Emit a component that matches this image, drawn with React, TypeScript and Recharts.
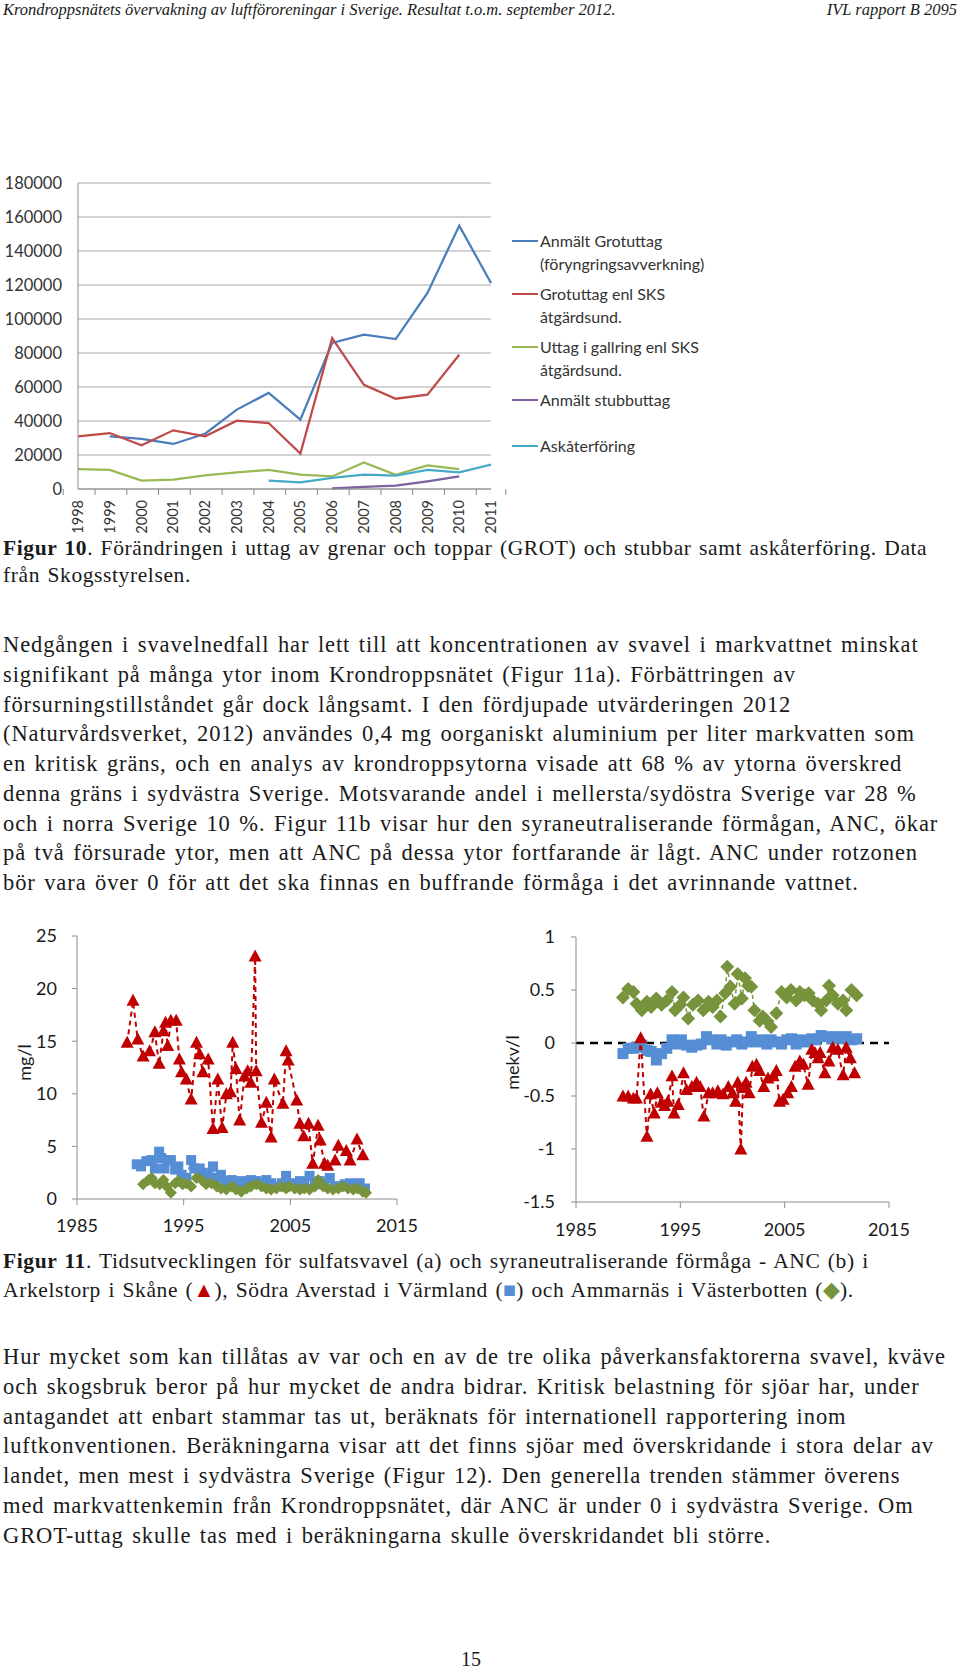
import React from 'react';
import {
  LineChart,
  Line,
  XAxis,
  YAxis,
  CartesianGrid,
  Legend,
  ScatterChart,
  Scatter,
  ReferenceLine,
} from 'recharts';

// ---- Figur 10: GROT / stubbar / askåterföring ----
const years = ['1998', '1999', '2000', '2001', '2002', '2003', '2004', '2005', '2006', '2007', '2008', '2009', '2010', '2011'];
const grotAnmalt = [null, 31000, 29500, 26500, 32500, 46700, 56500, 40800, 85900, 90800, 88200, 115300, 154900, 121200];
const grotSks = [30900, 32900, 25700, 34500, 31000, 40200, 38800, 20800, 88800, 61300, 53100, 55500, 79000, null];
const gallring = [11700, 11200, 4900, 5500, 8000, 9800, 11200, 8400, 7400, 15600, 8400, 13900, 11700, null];
const stubb = [null, null, null, null, null, null, null, null, 400, 1200, 2000, 4500, 7400, null];
const aska = [null, null, null, null, null, null, 4900, 3900, 6500, 8400, 7800, 11200, 9800, 14300];
const topTicks = [0, 20000, 40000, 60000, 80000, 100000, 120000, 140000, 160000, 180000];
const legendOrder = ['grotAnmalt', 'grotSks', 'gallring', 'stubb', 'aska'];

// ---- Figur 11a: sulfatsvavel mg/l ----
const arkelstorpS: [number, number][] = [
  [1989.7, 14.8], [1990.25, 18.8], [1990.7, 15.1], [1991.2, 13.5], [1991.8, 14.0], [1992.3, 15.8],
  [1992.7, 12.8], [1993.1, 15.9], [1993.3, 16.7], [1993.5, 14.5], [1993.8, 16.9], [1994.3, 16.9],
  [1994.6, 13.2], [1994.8, 12.0], [1995.25, 11.3], [1995.7, 9.4], [1996.2, 14.8], [1996.5, 13.7],
  [1996.8, 12.0], [1997.3, 13.2], [1997.75, 6.6], [1998.2, 11.3], [1998.6, 6.7], [1999.0, 9.9],
  [1999.4, 10.1], [1999.6, 14.8], [1999.9, 12.3], [2000.25, 7.4], [2000.7, 11.6], [2001.0, 12.1],
  [2001.3, 11.0], [2001.7, 23.0], [2001.8, 12.1], [2002.3, 7.2], [2002.75, 9.1], [2003.2, 5.8],
  [2003.5, 11.3], [2004.3, 9.0], [2004.6, 14.0], [2004.8, 13.1], [2005.6, 9.3], [2005.9, 7.1],
  [2006.25, 5.9], [2006.7, 7.1], [2007.1, 3.3], [2007.6, 6.9], [2007.8, 5.5], [2008.2, 3.3],
  [2008.5, 3.1], [2009.2, 3.6], [2009.5, 5.0], [2010.25, 4.5], [2010.6, 3.6], [2011.25, 5.6], [2011.8, 4.1],
];
const averstadS: [number, number][] = [
  [1990.6, 3.3], [1991.0, 3.1], [1991.5, 3.6], [1992.0, 3.7], [1992.3, 2.9], [1992.7, 4.5], [1992.9, 3.9],
  [1993.2, 2.9], [1993.5, 3.7], [1993.8, 3.7], [1994.2, 2.8], [1994.5, 3.1], [1994.8, 2.3], [1995.25, 2.0],
  [1995.7, 3.7], [1996.0, 2.9], [1996.5, 2.9], [1996.8, 2.5], [1997.3, 2.2], [1997.75, 3.1], [1998.1, 2.0],
  [1998.5, 2.3], [1999.0, 1.7], [1999.5, 1.8], [2000.0, 1.4], [2000.4, 1.7], [2000.9, 1.4], [2001.3, 1.8],
  [2001.8, 1.7], [2002.3, 1.5], [2002.75, 1.8], [2003.2, 1.5], [2003.7, 1.2], [2004.2, 1.5], [2004.6, 2.2],
  [2004.9, 1.4], [2005.4, 1.5], [2005.9, 1.7], [2006.3, 1.5], [2006.8, 2.2], [2007.3, 1.4], [2007.75, 1.7],
  [2008.2, 1.4], [2008.7, 2.0], [2009.2, 1.2], [2009.6, 1.2], [2010.1, 1.4], [2010.6, 1.5], [2011.0, 1.4],
  [2011.5, 1.5], [2012.0, 1.0],
];
const ammarnasS: [number, number][] = [
  [1991.2, 1.4], [1991.7, 1.8], [1992.0, 2.0], [1992.3, 1.5], [1992.75, 1.4], [1993.1, 1.8], [1993.4, 1.2],
  [1993.8, 0.6], [1994.2, 1.5], [1994.5, 1.7], [1994.9, 1.4], [1995.25, 1.5], [1995.7, 1.2], [1996.2, 2.0],
  [1996.7, 1.8], [1997.1, 1.4], [1997.6, 1.5], [1998.1, 1.2], [1998.5, 1.0], [1999.0, 0.9], [1999.5, 1.2],
  [1999.9, 0.9], [2000.4, 0.7], [2000.9, 1.0], [2001.3, 1.2], [2001.8, 1.4], [2002.3, 1.2], [2002.75, 1.0],
  [2003.2, 0.9], [2003.7, 1.0], [2004.2, 1.2], [2004.6, 1.0], [2004.9, 1.2], [2005.4, 1.0], [2005.9, 0.9],
  [2006.3, 1.0], [2006.8, 0.9], [2007.3, 1.2], [2007.6, 1.8], [2008.1, 1.2], [2008.5, 1.0], [2009.0, 0.9],
  [2009.5, 1.0], [2009.9, 1.2], [2010.4, 1.0], [2010.9, 0.9], [2011.3, 1.0], [2011.8, 0.7], [2012.1, 0.6],
];

// ---- Figur 11b: ANC mekv/l ----
const arkelstorpAnc: [number, number][] = [
  [1989.5, -0.51], [1990.0, -0.51], [1990.5, -0.53], [1990.8, -0.53], [1991.2, 0.04], [1991.8, -0.89],
  [1992.15, -0.49], [1992.5, -0.67], [1992.8, -0.48], [1993.2, -0.57], [1993.5, -0.6], [1993.8, -0.56],
  [1994.2, -0.32], [1994.4, -0.67], [1994.8, -0.59], [1995.3, -0.29], [1995.6, -0.45], [1996.1, -0.42],
  [1996.55, -0.38], [1996.9, -0.42], [1997.25, -0.7], [1997.7, -0.48], [1998.1, -0.48], [1998.6, -0.46],
  [1999.1, -0.49], [1999.6, -0.42], [2000.0, -0.48], [2000.3, -0.56], [2000.5, -0.38], [2000.8, -1.01],
  [2001.0, -0.43], [2001.3, -0.38], [2001.6, -0.48], [2001.9, -0.23], [2002.3, -0.21], [2002.6, -0.27],
  [2003.0, -0.42], [2003.4, -0.34], [2003.9, -0.32], [2004.2, -0.27], [2004.5, -0.56], [2004.85, -0.54],
  [2005.3, -0.48], [2005.65, -0.42], [2006.0, -0.23], [2006.45, -0.18], [2006.8, -0.21], [2007.25, -0.4],
  [2007.6, -0.07], [2007.9, -0.1], [2008.2, -0.15], [2008.4, -0.1], [2008.85, -0.29], [2009.25, -0.18],
  [2009.6, -0.05], [2010.1, -0.07], [2010.6, -0.31], [2010.9, -0.05], [2011.3, -0.15], [2011.7, -0.29],
];
const averstadAnc: [number, number][] = [
  [1989.5, -0.1], [1990.0, -0.05], [1990.5, -0.05], [1990.8, -0.04], [1991.3, -0.02], [1991.8, -0.07],
  [1992.2, -0.08], [1992.7, -0.16], [1993.2, -0.1], [1993.7, -0.05], [1994.2, 0.03], [1994.6, -0.01],
  [1995.1, 0.03], [1995.6, -0.02], [1996.1, -0.04], [1996.6, -0.02], [1997.0, -0.01], [1997.5, 0.06],
  [1998.0, 0.03], [1998.5, -0.01], [1998.9, 0.03], [1999.4, -0.02], [1999.9, 0.01], [2000.4, 0.03],
  [2000.9, -0.01], [2001.3, 0.01], [2001.8, 0.06], [2002.3, 0.01], [2002.8, 0.03], [2003.3, -0.01],
  [2003.7, 0.03], [2004.2, 0.01], [2004.7, -0.01], [2005.2, 0.03], [2005.65, 0.04], [2006.1, -0.01],
  [2006.6, 0.03], [2007.1, 0.01], [2007.6, 0.04], [2008.0, 0.03], [2008.5, 0.07], [2009.0, 0.06],
  [2009.5, 0.04], [2010.0, 0.06], [2010.4, 0.04], [2010.9, 0.06], [2011.4, 0.03], [2011.9, 0.04],
];
const ammarnasAnc: [number, number][] = [
  [1989.5, 0.43], [1990.0, 0.51], [1990.5, 0.48], [1990.8, 0.37], [1991.3, 0.31], [1991.8, 0.39],
  [1992.2, 0.34], [1992.7, 0.42], [1993.2, 0.36], [1993.7, 0.4], [1994.2, 0.48], [1994.5, 0.31],
  [1995.0, 0.36], [1995.3, 0.43], [1995.75, 0.23], [1996.2, 0.36], [1996.7, 0.4], [1997.2, 0.31],
  [1997.7, 0.39], [1998.1, 0.34], [1998.5, 0.4], [1998.85, 0.25], [1999.3, 0.47], [1999.5, 0.72],
  [1999.8, 0.53], [2000.2, 0.37], [2000.5, 0.65], [2000.9, 0.42], [2001.2, 0.61], [2001.5, 0.54],
  [2001.8, 0.53], [2002.1, 0.31], [2002.6, 0.21], [2002.9, 0.25], [2003.3, 0.21], [2003.7, 0.15],
  [2004.2, 0.28], [2004.7, 0.48], [2005.2, 0.43], [2005.6, 0.5], [2006.1, 0.4], [2006.45, 0.48],
  [2006.9, 0.45], [2007.3, 0.47], [2007.7, 0.4], [2008.2, 0.37], [2008.5, 0.31], [2009.0, 0.4],
  [2009.25, 0.54], [2009.6, 0.45], [2010.1, 0.37], [2010.6, 0.4], [2010.9, 0.31], [2011.4, 0.5], [2011.9, 0.45],
];
const yearTicks = [1985, 1995, 2005, 2015];

const SERIF = '"Liberation Serif", "Times New Roman", serif';
const SANS = 'Lato, "Open Sans", sans-serif';
const INK = '#1a1a1a';
const AXIS = '#8c8c8c';
const RED = '#c00000';
const BLUE = '#558ed5';
const GREEN = '#77933c';

const toXY = (rows: [number, number][]) => rows.map(([x, y]) => ({ x, y }));

const topRows = years.map((year, i) => ({
  year,
  grotAnmalt: grotAnmalt[i],
  grotSks: grotSks[i],
  gallring: gallring[i],
  stubb: stubb[i],
  aska: aska[i],
}));

const TOP_W = 740;
const TOP_MARGIN = { top: 23, right: 249, bottom: 0, left: 0 };
const TOP_YW = 78;
const BAND = (TOP_W - TOP_MARGIN.right - TOP_MARGIN.left - TOP_YW) / years.length;

const YearTick = (props: any) => {
  const { x, y, payload, index } = props;
  const last = index === years.length - 1;
  return (
    <g>
      <line x1={x - BAND / 2} x2={x - BAND / 2} y1={y} y2={y + 6} stroke={AXIS} />
      {last && <line x1={x + BAND / 2} x2={x + BAND / 2} y1={y} y2={y + 6} stroke={AXIS} />}
      <text
        x={x}
        y={y + 11}
        dy="0.35em"
        transform={`rotate(-90 ${x} ${y + 11})`}
        textAnchor="end"
        fill="#333"
        fontSize={14.5}
        fontFamily={SANS}
      >
        {payload.value}
      </text>
    </g>
  );
};

const renderTopLegend = (props: any) => {
  const items = [...(props.payload || [])].sort(
    (a: any, b: any) => legendOrder.indexOf(a.dataKey) - legendOrder.indexOf(b.dataKey),
  );
  return (
    <div style={{ display: 'flex', flexDirection: 'column', gap: 7, fontFamily: SANS, fontSize: 16, color: '#333', lineHeight: '23px' }}>
      {items.map((item: any, i: number) => (
        <div key={i} style={{ display: 'flex', marginTop: i === 4 ? 16 : 0 }}>
          <div style={{ width: 26, height: 2.5, background: item.color, marginTop: 11, marginRight: 2, flex: 'none' }} />
          <div>
            {String(item.value).split('\n').map((t, j) => (
              <div key={j} style={{ whiteSpace: 'nowrap' }}>{t}</div>
            ))}
          </div>
        </div>
      ))}
    </div>
  );
};

const triangle = (w: number) => (p: any) => (
  <polygon
    points={`${p.cx},${p.cy - w * 0.58} ${p.cx + w / 2},${p.cy + w * 0.34} ${p.cx - w / 2},${p.cy + w * 0.34}`}
    fill={RED}
  />
);
const square = (w: number) => (p: any) => (
  <rect x={p.cx - w / 2} y={p.cy - w / 2} width={w} height={w} fill={BLUE} />
);
const diamond = (w: number) => (p: any) => (
  <polygon
    points={`${p.cx},${p.cy - w / 2} ${p.cx + w / 2},${p.cy} ${p.cx},${p.cy + w / 2} ${p.cx - w / 2},${p.cy}`}
    fill={GREEN}
  />
);

const axisLabel = (text: string, dx: number, dy: number) => (p: any) => {
  const vb = p.viewBox || {};
  const cx = (vb.x || 0) + dx;
  const cy = (vb.y || 0) + (vb.height || 0) / 2 + dy;
  return (
    <text x={cx} y={cy} dy="0.35em" transform={`rotate(-90 ${cx} ${cy})`} textAnchor="middle" fill={INK} fontSize={18} fontFamily={SANS}>
      {text}
    </text>
  );
};

const tickStyle = { fill: INK, fontSize: 18, fontFamily: SANS };

const SulfurChart = () => (
  <ScatterChart width={440} height={345} margin={{ top: 36, right: 43, bottom: 0, left: 0 }}>
    <XAxis type="number" dataKey="x" domain={[1985, 2015]} ticks={yearTicks} height={46} stroke={AXIS} tickSize={6} tickMargin={14} tick={tickStyle} />
    <YAxis
      type="number"
      dataKey="y"
      domain={[0, 25]}
      ticks={[0, 5, 10, 15, 20, 25]}
      width={77}
      stroke={AXIS}
      tickSize={5}
      tickMargin={15}
      tick={tickStyle}
      label={{ content: axisLabel('mg/l', 25, -5) }}
    />
    <Scatter data={toXY(averstadS)} fill={BLUE} shape={square(10)} line={{ stroke: BLUE, strokeWidth: 1.5, strokeDasharray: '4 3' }} lineType="joint" isAnimationActive={false} />
    <Scatter data={toXY(ammarnasS)} fill={GREEN} shape={diamond(12)} line={{ stroke: GREEN, strokeWidth: 1.5, strokeDasharray: '4 3' }} lineType="joint" isAnimationActive={false} />
    <Scatter data={toXY(arkelstorpS)} fill={RED} shape={triangle(13)} line={{ stroke: RED, strokeWidth: 2, strokeDasharray: '5 4' }} lineType="joint" isAnimationActive={false} />
  </ScatterChart>
);

const AncChart = () => (
  <ScatterChart width={440} height={345} margin={{ top: 37, right: 31, bottom: 0, left: 0 }}>
    <XAxis type="number" dataKey="x" domain={[1985, 2015]} ticks={yearTicks} height={43} stroke={AXIS} tickSize={6} tickMargin={15} tick={tickStyle} />
    <YAxis
      type="number"
      dataKey="y"
      domain={[-1.5, 1]}
      ticks={[-1.5, -1, -0.5, 0, 0.5, 1]}
      width={96}
      stroke={AXIS}
      tickSize={5}
      tickMargin={16}
      tick={tickStyle}
      label={{ content: axisLabel('mekv/l', 33, -7) }}
    />
    <Scatter data={toXY(averstadAnc)} fill={BLUE} shape={square(11)} line={{ stroke: BLUE, strokeWidth: 1.5, strokeDasharray: '4 3' }} lineType="joint" isAnimationActive={false} />
    <Scatter data={toXY(ammarnasAnc)} fill={GREEN} shape={diamond(14)} line={{ stroke: GREEN, strokeWidth: 1.5, strokeDasharray: '4 3' }} lineType="joint" isAnimationActive={false} />
    <Scatter data={toXY(arkelstorpAnc)} fill={RED} shape={triangle(13)} line={{ stroke: RED, strokeWidth: 2, strokeDasharray: '5 4' }} lineType="joint" isAnimationActive={false} />
    <ReferenceLine y={0} stroke="#000" strokeWidth={2.5} strokeDasharray="8 6" />
  </ScatterChart>
);

const GrotChart = () => (
  <LineChart width={TOP_W} height={400} data={topRows} margin={TOP_MARGIN}>
    <CartesianGrid vertical={false} stroke="#a6a6a6" />
    <XAxis dataKey="year" interval={0} height={71} stroke={AXIS} tickLine={false} tickSize={0} tickMargin={0} tick={<YearTick />} />
    <YAxis
      domain={[0, 180000]}
      ticks={topTicks}
      width={TOP_YW}
      stroke={AXIS}
      tickLine={false}
      tickSize={0}
      tickMargin={16}
      tick={{ fill: '#333', fontSize: 16.5, fontFamily: SANS }}
    />
    <Legend
      layout="horizontal"
      verticalAlign="middle"
      align="center"
      content={renderTopLegend}
      wrapperStyle={{ left: 512, top: 68.5, width: 228, height: 260 }}
    />
    <Line dataKey="grotAnmalt" name={'Anmält Grotuttag\n(föryngringsavverkning)'} stroke="#4a7ebb" strokeWidth={2.25} dot={false} isAnimationActive={false} />
    <Line dataKey="grotSks" name={'Grotuttag enl SKS\nåtgärdsund.'} stroke="#be4b48" strokeWidth={2.25} dot={false} isAnimationActive={false} />
    <Line dataKey="gallring" name={'Uttag i gallring enl SKS\nåtgärdsund.'} stroke="#98b954" strokeWidth={2.25} dot={false} isAnimationActive={false} />
    <Line dataKey="stubb" name="Anmält stubbuttag" stroke="#7d60a0" strokeWidth={2.25} dot={false} isAnimationActive={false} />
    <Line dataKey="aska" name="Askåterföring" stroke="#46aac5" strokeWidth={2.25} dot={false} isAnimationActive={false} />
  </LineChart>
);

const para1 = [
  'Nedgången i svavelnedfall har lett till att koncentrationen av svavel i markvattnet minskat',
  'signifikant på många ytor inom Krondroppsnätet (Figur 11a). Förbättringen av',
  'försurningstillståndet går dock långsamt. I den fördjupade utvärderingen 2012',
  '(Naturvårdsverket, 2012) användes 0,4 mg oorganiskt aluminium per liter markvatten som',
  'en kritisk gräns, och en analys av krondroppsytorna visade att 68 % av ytorna överskred',
  'denna gräns i sydvästra Sverige. Motsvarande andel i mellersta/sydöstra Sverige var 28 %',
  'och i norra Sverige 10 %. Figur 11b visar hur den syraneutraliserande förmågan, ANC, ökar',
  'på två försurade ytor, men att ANC på dessa ytor fortfarande är lågt. ANC under rotzonen',
  'bör vara över 0 för att det ska finnas en buffrande förmåga i det avrinnande vattnet.',
];
const para2 = [
  'Hur mycket som kan tillåtas av var och en av de tre olika påverkansfaktorerna svavel, kväve',
  'och skogsbruk beror på hur mycket de andra bidrar. Kritisk belastning för sjöar har, under',
  'antagandet att enbart stammar tas ut, beräknats för internationell rapportering inom',
  'luftkonventionen. Beräkningarna visar att det finns sjöar med överskridande i stora delar av',
  'landet, men mest i sydvästra Sverige (Figur 12). Den generella trenden stämmer överens',
  'med markvattenkemin från Krondroppsnätet, där ANC är under 0 i sydvästra Sverige. Om',
  'GROT-uttag skulle tas med i beräkningarna skulle överskridandet bli större.',
];

const bodyStyle: React.CSSProperties = {
  position: 'absolute',
  left: 3,
  whiteSpace: 'nowrap',
  fontFamily: SERIF,
  fontSize: 22.5,
  letterSpacing: 0.9,
  wordSpacing: 2,
  lineHeight: '30px',
  color: INK,
};
const captionStyle: React.CSSProperties = { ...bodyStyle, fontSize: 21.5, letterSpacing: 0.6, wordSpacing: 1.5 };

const TextLine = ({ y, style, children }: { y: number; style: React.CSSProperties; children: React.ReactNode }) => (
  <div style={{ ...style, top: y - 15 }}>{children}</div>
);

export default function App() {
  return (
    <div style={{ position: 'absolute', left: 0, top: 0, width: 960, height: 1669, background: '#fff', overflow: 'hidden' }}>
      <div style={{ position: 'absolute', left: 3, top: 0, fontFamily: SERIF, fontStyle: 'italic', fontSize: 16.5, color: INK, whiteSpace: 'nowrap' }}>
        Krondroppsnätets övervakning av luftföroreningar i Sverige. Resultat t.o.m. september 2012.
      </div>
      <div style={{ position: 'absolute', right: 3, top: 0, fontFamily: SERIF, fontStyle: 'italic', fontSize: 16.5, color: INK, whiteSpace: 'nowrap' }}>
        IVL rapport B 2095
      </div>

      <div style={{ position: 'absolute', left: 0, top: 160 }}>
        <GrotChart />
      </div>

      <TextLine y={548} style={captionStyle}>
        <b>Figur 10</b>. Förändringen i uttag av grenar och toppar (GROT) och stubbar samt askåterföring. Data
      </TextLine>
      <TextLine y={575} style={captionStyle}>från Skogsstyrelsen.</TextLine>

      {para1.map((t, i) => (
        <TextLine key={i} y={645 + i * 29.75} style={bodyStyle}>{t}</TextLine>
      ))}

      <div style={{ position: 'absolute', left: 0, top: 900 }}>
        <SulfurChart />
      </div>
      <div style={{ position: 'absolute', left: 480, top: 900 }}>
        <AncChart />
      </div>

      <TextLine y={1261} style={captionStyle}>
        <b>Figur 11</b>. Tidsutvecklingen för sulfatsvavel (a) och syraneutraliserande förmåga - ANC (b) i
      </TextLine>
      <TextLine y={1290} style={captionStyle}>
        Arkelstorp i Skåne (<span style={{ color: RED, letterSpacing: 0 }}>▲</span>), Södra Averstad i Värmland (<span style={{ color: BLUE, letterSpacing: 0 }}>■</span>) och Ammarnäs i Västerbotten (<span style={{ color: GREEN, letterSpacing: 0 }}>◆</span>).
      </TextLine>

      {para2.map((t, i) => (
        <TextLine key={i} y={1357 + i * 29.75} style={bodyStyle}>{t}</TextLine>
      ))}

      <div style={{ position: 'absolute', left: 0, width: 942, top: 1648, textAlign: 'center', fontFamily: SERIF, fontSize: 20, color: INK }}>
        15
      </div>
    </div>
  );
}
